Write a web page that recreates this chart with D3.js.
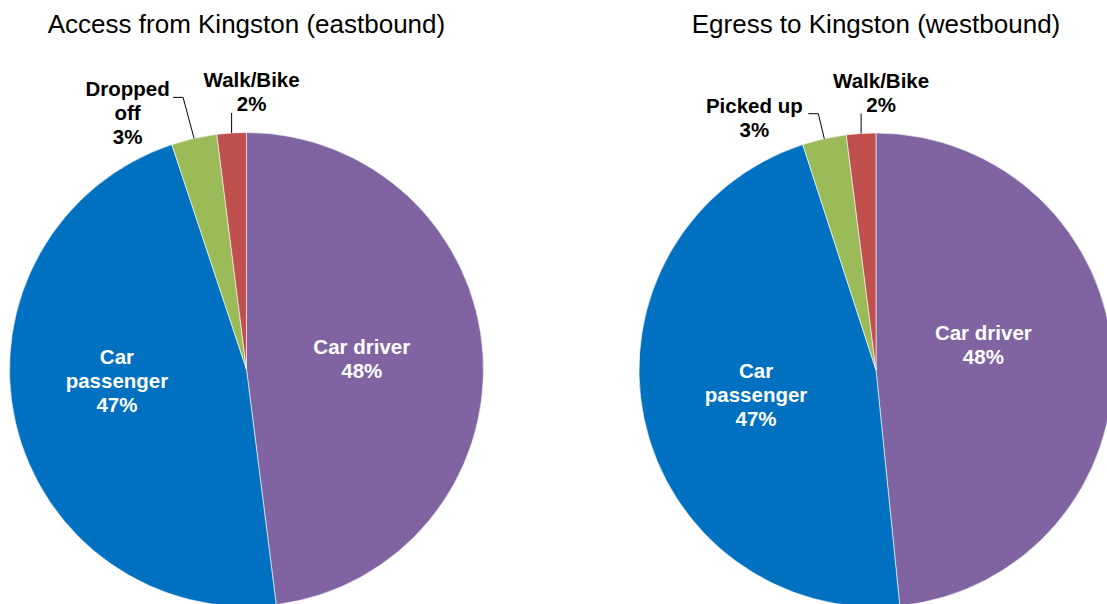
<!DOCTYPE html>
<html lang="en">
<head>
    <meta charset="utf-8">
    <title>Access and egress mode share</title>
    <script src="https://d3js.org/d3.v7.min.js"></script>
    <style type="text/css">
        body{
            margin: 0;
            background: #fff;
        }
        svg{
            display: block;
            font-family: "Liberation Sans", Arial, sans-serif;
        }
        .title{
            font-size: 26px;
            fill: #000;
        }
        .lbl{
            font-size: 20.5px;
            font-weight: bold;
        }
    </style>
</head>
<body>
    <div id="chart"></div>

    <script type="text/javascript">

        // data
        const titles = ["Access from Kingston (eastbound)", "Egress to Kingston (westbound)"];
        const modesEast = ["Car driver", "Car passenger", "Dropped off", "Walk/Bike"];
        const modesWest = ["Car driver", "Car passenger", "Picked up", "Walk/Bike"];
        const shareEast = [48.0, 46.9, 3.1, 2.0];
        const shareWest = [48.4, 46.6, 3.0, 2.0];
        const colours = ["#8064A2", "#0070C0", "#9BBB59", "#C0504D"];

        // label layout (how each label is written and where it sits)
        const labelLinesEast = [["Car driver"], ["Car", "passenger"], ["Dropped", "off"], ["Walk/Bike"]];
        const labelLinesWest = [["Car driver"], ["Car", "passenger"], ["Picked up"], ["Walk/Bike"]];

        const W = 1107, H = 604;
        const R = 237;
        const lh = 24;

        const pies = [
            {title: titles[0], modes: modesEast, share: shareEast, lines: labelLinesEast, cx: 246.5, cy: 369.5,
             // inside nudges, outside leaders: [elbow dx,dy, end dx, text dx, first baseline dy]
             nudge: [[-3, -3], [-14, -15]],
             leader: [null, null, [-11, -41, -21, -66.5, -42], [0, -20, 0, 20, -45.5]]},
            {title: titles[1], modes: modesWest, share: shareWest, lines: labelLinesWest, cx: 876, cy: 370,
             nudge: [[-11, -19], [-4, 1]],
             leader: [null, null, [-6, -25, -16, -70, -26], [0, -20, 0, 20, -45.5]]}
        ];

        const svg = d3.select("#chart")
            .append("svg")
            .attr("width", W)
            .attr("height", H);

        const pie = d3.pie().sort(null).value(d => d);
        const arc = d3.arc().innerRadius(0).outerRadius(R);
        const inArc = d3.arc().innerRadius(R * 0.5).outerRadius(R * 0.5);
        const edgeArc = d3.arc().innerRadius(R).outerRadius(R);

        pies.forEach(p => {
            const total = d3.sum(p.share);
            const slices = pie(p.share);

            svg.append("text")
                .attr("class", "title")
                .attr("x", p.cx)
                .attr("y", 33)
                .attr("text-anchor", "middle")
                .text(p.title);

            const g = svg.append("g")
                .attr("transform", `translate(${p.cx},${p.cy})`);

            g.selectAll("path")
                .data(slices)
                .enter()
                .append("path")
                .attr("d", arc)
                .attr("fill", (d, i) => colours[i])
                .attr("stroke", "#fff")
                .attr("stroke-width", 0.6);

            slices.forEach((d, i) => {
                const pct = Math.round(d.value / total * 100) + "%";
                const lines = p.lines[i].concat([pct]);

                if (i < 2) {
                    // inside labels, white
                    const c = inArc.centroid(d);
                    const x = c[0] + p.nudge[i][0];
                    const y = c[1] + p.nudge[i][1];
                    const y0 = y - (lines.length - 1) * lh / 2 + 7;
                    const t = g.append("text")
                        .attr("class", "lbl")
                        .attr("fill", "#fff")
                        .attr("text-anchor", "middle");
                    lines.forEach((s, k) => {
                        t.append("tspan")
                            .attr("x", x)
                            .attr("y", y0 + k * lh)
                            .text(s);
                    });
                } else {
                    // outside labels with leader line
                    const a = edgeArc.centroid(d);
                    const L = p.leader[i];
                    g.append("polyline")
                        .attr("points", [[a[0], a[1]], [a[0] + L[0], a[1] + L[1]], [a[0] + L[2], a[1] + L[1]]].join(" "))
                        .attr("fill", "none")
                        .attr("stroke", "#000")
                        .attr("stroke-width", 1);
                    const t = g.append("text")
                        .attr("class", "lbl")
                        .attr("fill", "#000")
                        .attr("text-anchor", "middle");
                    lines.forEach((s, k) => {
                        t.append("tspan")
                            .attr("x", a[0] + L[3])
                            .attr("y", a[1] + L[4] + k * lh)
                            .text(s);
                    });
                }
            });
        });
    </script>
</body>
</html>
